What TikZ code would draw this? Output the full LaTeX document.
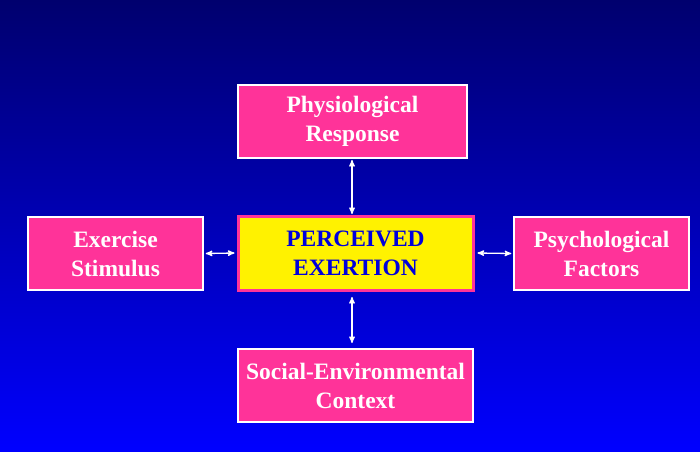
\documentclass[tikz,border=0pt]{standalone}
\usepackage{fontspec}
\setmainfont{Liberation Serif}
\usetikzlibrary{arrows,positioning}

\begin{document}
\begin{tikzpicture}[x=1pt,y=-1pt,<->,>=stealth',semithick]
    \tikzstyle{factor}=[draw=white, line width=1.5pt, fill={rgb,255:red,255;green,51;blue,153},
        text=white, font=\bfseries\fontsize{23.5}{29}\selectfont, align=center, inner sep=0pt]
    \tikzstyle{link}=[white, line width=1.3pt]
    \shade [top color={rgb,255:red,0;green,0;blue,110}, bottom color={rgb,255:red,0;green,0;blue,255}]
        (0,0) rectangle (700,451);
    \useasboundingbox (0,0) rectangle (700,451);

    \node [factor, minimum width=235pt, minimum height=74pt, fill=yellow,
        draw={rgb,255:red,255;green,51;blue,153}, line width=3pt,
        text={rgb,255:red,0;green,0;blue,220}] (exertion) at (355.5,253) {PERCEIVED\\EXERTION};

    \node [factor, minimum width=229pt, minimum height=73pt] (physio) at (352.5,121.5) {Physiological\\Response};
    \node [factor, minimum width=175pt, minimum height=73pt] (stimulus) at (115.5,253.5) {Exercise\\Stimulus};
    \node [factor, minimum width=175pt, minimum height=73pt] (psycho) at (601.5,253.5) {Psychological\\Factors};
    \node [factor, minimum width=235pt, minimum height=73pt] (social) at (355.5,385.5) {Social-Environmental\\Context};

    % free ends of the vertical links
    \coordinate (pTop) at (352,160);
    \coordinate (pBot) at (352,214);
    \coordinate (sTop) at (352,297);
    \coordinate (sBot) at (352,343);

    \draw [link] (pTop) -- (pBot);
    \draw [link] (sTop) -- (sBot);
    \draw [link] ([xshift=2pt]stimulus.east) -- ([xshift=-2pt]exertion.west);
    \draw [link] ([xshift=3pt]exertion.east) -- ([xshift=-2pt]psycho.west);
\end{tikzpicture}
\end{document}
